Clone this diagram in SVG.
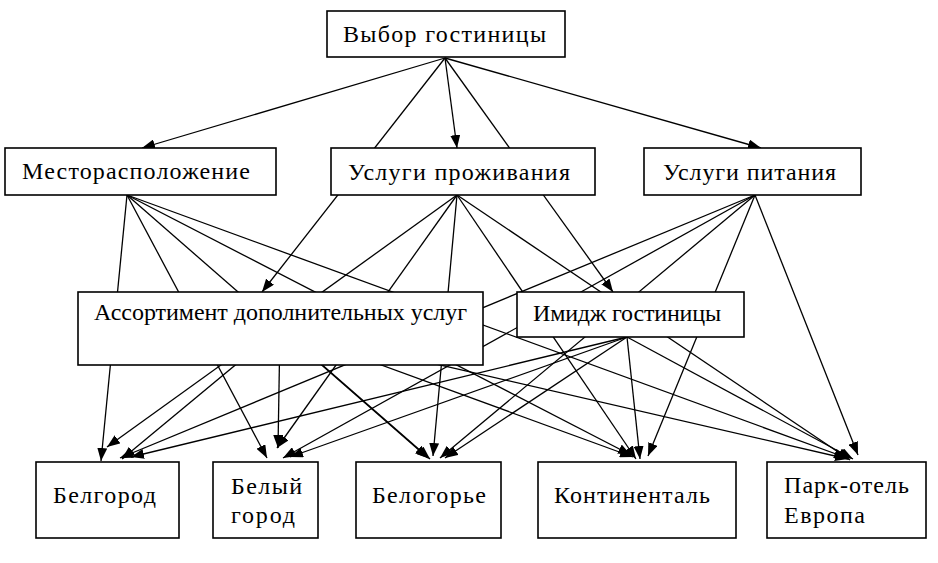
<svg xmlns="http://www.w3.org/2000/svg" width="938" height="563" viewBox="0 0 938 563">
<defs>
<marker id="ah" viewBox="0 0 13 10" refX="13" refY="5" markerWidth="13" markerHeight="10" markerUnits="userSpaceOnUse" orient="auto">
<path d="M0,0 L13,5 L0,10 Z" fill="#000"/>
</marker>
<style>
.e{stroke:#000;stroke-width:1.3;fill:none;marker-end:url(#ah)}
.b{fill:#fff;stroke:#000;stroke-width:1.6}
</style>
</defs>
<rect width="938" height="563" fill="#fff"/>
<g id="connectors">
<line class="e" x1="445" y1="58" x2="142" y2="148"/>
<line class="e" x1="445" y1="58" x2="457" y2="148"/>
<line class="e" x1="445" y1="58" x2="761" y2="148"/>
<line class="e" x1="445" y1="58" x2="262" y2="292"/>
<line class="e" x1="445" y1="58" x2="613" y2="292"/>
<line class="e" x1="127" y1="195" x2="101" y2="461"/>
<line class="e" x1="127" y1="195" x2="267" y2="458"/>
<line class="e" x1="127" y1="195" x2="428" y2="458"/>
<line class="e" x1="127" y1="195" x2="631" y2="455"/>
<line class="e" x1="127" y1="195" x2="847" y2="458"/>
<line class="e" x1="457" y1="195" x2="107" y2="447"/>
<line class="e" x1="457" y1="195" x2="277" y2="448"/>
<line class="e" x1="457" y1="195" x2="433" y2="456"/>
<line class="e" x1="457" y1="195" x2="636" y2="459"/>
<line class="e" x1="457" y1="195" x2="850" y2="460"/>
<line class="e" x1="755" y1="195" x2="120" y2="458"/>
<line class="e" x1="755" y1="195" x2="283" y2="458"/>
<line class="e" x1="755" y1="195" x2="440" y2="458"/>
<line class="e" x1="755" y1="195" x2="648" y2="456"/>
<line class="e" x1="755" y1="195" x2="858" y2="455"/>
<line class="e" x1="280" y1="328" x2="122" y2="459"/>
<line class="e" x1="280" y1="328" x2="278" y2="448"/>
<line class="e" x1="280" y1="328" x2="430" y2="459"/>
<line class="e" x1="280" y1="328" x2="633" y2="457"/>
<line class="e" x1="280" y1="328" x2="848" y2="459"/>
<line class="e" x1="627" y1="337" x2="131" y2="457"/>
<line class="e" x1="627" y1="337" x2="290" y2="457"/>
<line class="e" x1="627" y1="337" x2="445" y2="458"/>
<line class="e" x1="627" y1="337" x2="640" y2="459"/>
<line class="e" x1="627" y1="337" x2="853" y2="459"/>
</g>
<g font-family="Liberation Serif, Times New Roman, DejaVu Serif, serif" font-size="24" fill="#000">
<g id="n0"><rect class="b" x="327" y="11" width="238" height="46"/><text x="343" y="42" textLength="203">Выбор гостиницы</text></g>
<g id="n1"><rect class="b" x="5" y="148" width="271" height="47"/><text x="22" y="179" textLength="228">Месторасположение</text></g>
<g id="n2"><rect class="b" x="331" y="148" width="264" height="47"/><text x="348" y="180" textLength="222">Услуги проживания</text></g>
<g id="n3"><rect class="b" x="644" y="148" width="217" height="47"/><text x="663" y="180" textLength="173">Услуги питания</text></g>
<g id="n4"><rect class="b" x="78" y="292" width="405" height="73"/><text x="94" y="320" textLength="373">Ассортимент дополнительных услуг</text></g>
<g id="n5"><rect class="b" x="517" y="292" width="227" height="45"/><text x="533" y="321" textLength="188">Имидж гостиницы</text></g>
<g id="h1"><rect class="b" x="36" y="462" width="143" height="76"/><text x="53" y="503" textLength="103">Белгород</text></g>
<g id="h2"><rect class="b" x="213" y="462" width="105" height="76"/><text x="231" y="494" textLength="71">Белый</text><text x="231" y="523" textLength="64">город</text></g>
<g id="h3"><rect class="b" x="356" y="462" width="145" height="76"/><text x="372" y="503" textLength="114">Белогорье</text></g>
<g id="h4"><rect class="b" x="538" y="462" width="198" height="76"/><text x="554" y="503" textLength="156">Континенталь</text></g>
<g id="h5"><rect class="b" x="767" y="462" width="159" height="76"/><text x="784" y="493" textLength="125">Парк-отель</text><text x="784" y="523" textLength="81">Европа</text></g>
</g>
</svg>
